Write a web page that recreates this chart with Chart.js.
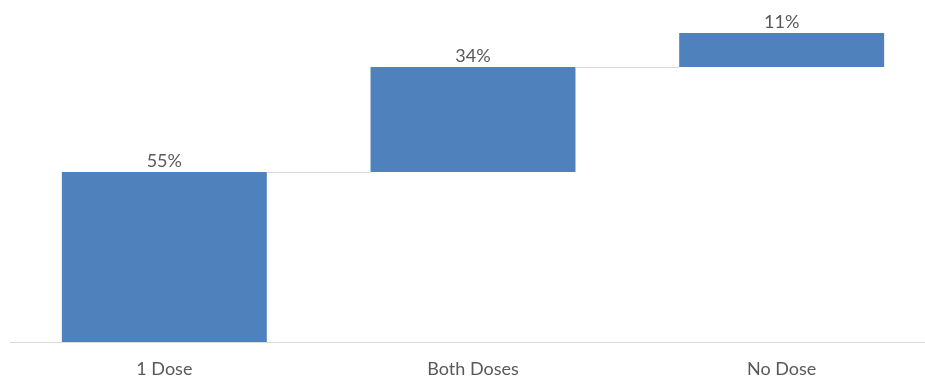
<!DOCTYPE html>
<html>
<head>
<meta charset="utf-8">
<script src="https://cdn.jsdelivr.net/npm/chart.js@4"></script>
<style>
  html, body { margin: 0; padding: 0; background: #ffffff; overflow: hidden; }
  #wrap { width: 925px; height: 380px; overflow: hidden; }
  canvas { display: block; }
</style>
</head>
<body>
<div id="wrap"><canvas id="c" width="936" height="380"></canvas></div>
<script>
// Waterfall: share of people by dose status
const categories = ['1 Dose', 'Both Doses', 'No Dose'];
const shares = [55, 34, 11];
const valueLabels = ['55%', '34%', '11%'];

const barColor = '#4f81bd';
const lineColor = '#d9d9d9';
const textColor = '#595959';
const fontFamily = 'Lato, "Open Sans", sans-serif';

// Each step floats on the running total of the previous ones
const ranges = [];
let running = 0;
for (const v of shares) {
  ranges.push([running, running + v]);
  running += v;
}

// Thin connector from the top of one step to the start of the next
const connectors = {
  id: 'connectors',
  afterDatasetsDraw(chart) {
    const meta = chart.getDatasetMeta(0);
    const y = chart.scales.y;
    const ctx = chart.ctx;
    ctx.save();
    ctx.strokeStyle = lineColor;
    ctx.lineWidth = 1;
    for (let i = 0; i < meta.data.length - 1; i++) {
      const a = meta.data[i], b = meta.data[i + 1];
      const py = Math.round(y.getPixelForValue(ranges[i][1])) + 0.5;
      ctx.beginPath();
      ctx.moveTo(a.x + a.width / 2, py);
      ctx.lineTo(b.x - b.width / 2, py);
      ctx.stroke();
    }
    ctx.restore();
  }
};

// Value text above each step
const valueText = {
  id: 'valueText',
  afterDatasetsDraw(chart) {
    const meta = chart.getDatasetMeta(0);
    const y = chart.scales.y;
    const ctx = chart.ctx;
    ctx.save();
    ctx.fillStyle = textColor;
    ctx.font = '18px ' + fontFamily;
    ctx.textAlign = 'center';
    ctx.textBaseline = 'alphabetic';
    meta.data.forEach((bar, i) => {
      const top = y.getPixelForValue(ranges[i][1]);
      ctx.fillText(valueLabels[i], bar.x, top - 5);
    });
    ctx.restore();
  }
};

new Chart(document.getElementById('c'), {
  type: 'bar',
  data: {
    labels: categories,
    datasets: [{
      data: ranges,
      backgroundColor: barColor,
      borderWidth: 0,
      categoryPercentage: 1,
      barPercentage: 0.664
    }]
  },
  options: {
    responsive: false,
    animation: false,
    devicePixelRatio: 1,
    layout: { padding: { top: 33, left: 10, right: 0, bottom: 0 } },
    plugins: { legend: { display: false }, tooltip: { enabled: false } },
    scales: {
      x: {
        grid: { display: false, drawTicks: false },
        border: { display: true, color: lineColor, width: 1 },
        ticks: {
          color: textColor,
          font: { family: fontFamily, size: 18 },
          padding: 16,
          maxRotation: 0
        },
        afterFit(scale) { scale.height = 38; }
      },
      y: {
        display: false,
        min: 0,
        max: 100
      }
    }
  },
  plugins: [connectors, valueText]
});
</script>
</body>
</html>
